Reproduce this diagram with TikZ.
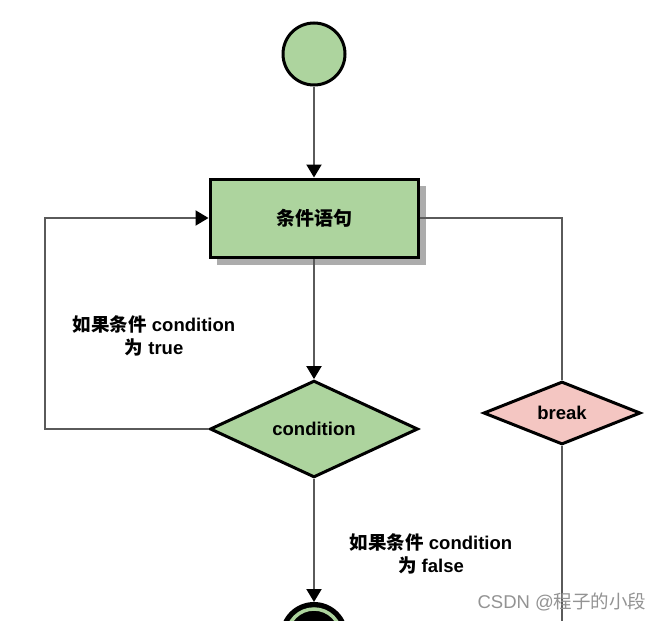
\documentclass[tikz,border=0pt]{standalone}
\usepackage{fontspec}
\setmainfont{Liberation Sans}
\newfontfamily\cjk{Noto Sans CJK SC}
\usetikzlibrary{shapes.geometric,arrows.meta}
\newcommand{\zh}[1]{{\cjk #1}}
\definecolor{gfill}{HTML}{ADD49E}
\definecolor{pfill}{HTML}{F4C6C2}
\definecolor{lgray}{HTML}{5A5A5A}
\tikzset{
  shapeline/.style={draw=black, line width=3pt},
  conn/.style={draw=lgray, line width=2pt, -{Triangle[width=15pt,length=13pt,fill=black,color=black]}},
  plainline/.style={draw=lgray, line width=2pt},
  lbl/.style={font=\fontsize{18.5}{23}\selectfont\bfseries, align=center, text=black},
  decision/.style={diamond, shapeline, inner sep=0pt, font=\fontsize{18.5}{20}\selectfont\bfseries}
}
\begin{document}
\begin{tikzpicture}[x=1pt,y=-1pt]
\useasboundingbox (0,0) rectangle (664,621);
\clip (0,0) rectangle (664,621);
\fill[white] (0,0) rectangle (664,621);
% start
\node[circle, shapeline, fill=gfill, minimum size=62pt, inner sep=0pt] (start) at (314,54) {};
% box with shadow
\fill[gray!65] (217,186) rectangle (426,265);
\node[rectangle, shapeline, fill=gfill, minimum width=208pt, minimum height=78pt, inner sep=0pt,
      font=\fontsize{19}{20}\selectfont\bfseries] (box) at (314,218) {\zh{条件语句}};
% condition diamond
\node[decision, fill=gfill, minimum width=208pt, minimum height=93pt] (cond) at (314,429) {condition};
% break diamond
\node[decision, fill=pfill, minimum width=157pt, minimum height=60pt] (brk) at (562,413) {break};
% end circle
\node[circle, fill=black, draw=black, line width=2pt, minimum size=66pt, inner sep=0pt] (stop) at (314,636) {};
\draw[gfill, line width=3.5pt] (stop.center) circle (27pt);
% coordinates
\coordinate (lp) at (45,429);
\coordinate (rb) at (562,621);
% connectors
\draw[conn] (start) -- (box);
\draw[conn] (box) -- (cond);
\draw[conn] (cond.west) -- (lp) |- (box.west);
\draw[plainline] (box.east) -| (brk.north);
\draw[plainline] (brk.south) -- (rb);
\draw[conn] (cond.south) -- (stop.north);
% labels
\node[lbl] (ltrue) at (154,336) {\zh{如果条件} condition\\\zh{为} true};
\node[lbl] (lfalse) at (431,554) {\zh{如果条件} condition\\\zh{为} false};
\node[anchor=east, text=gray!85, font=\fontsize{18.5}{20}\selectfont] (wm) at (650,602) {CSDN @\zh{程子的小段}};
\end{tikzpicture}
\end{document}
